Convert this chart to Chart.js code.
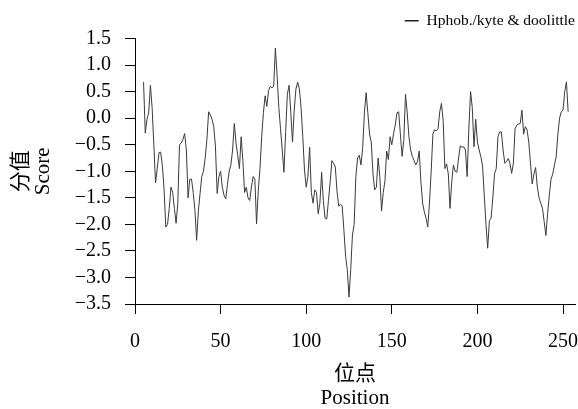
<!DOCTYPE html>
<html>
<head>
<meta charset="utf-8">
<script src="https://cdn.jsdelivr.net/npm/chart.js@4.4.1/dist/chart.umd.min.js"></script>
<style>
    body { margin: 0; background: #fff; }
    canvas { display: block; }
</style>
</head>
<body>
<canvas id="chart" width="578" height="409"></canvas>
<script>
'use strict'

// Kyte & Doolittle hydrophobicity, window centred positions 5..253
const firstPosition = 5;
const scores = [
    0.68, -0.28, -0.02, 0.10, 0.62, 0.20, -0.50, -1.22, -0.95, -0.65,
    -0.64, -0.90, -1.35, -2.05, -2.00, -1.70, -1.30, -1.40, -1.70, -1.98,
    -1.60, -0.50, -0.47, -0.40, -0.29, -0.60, -1.50, -1.15, -1.15, -1.40,
    -1.74, -2.30, -1.75, -1.42, -1.10, -1.00, -0.75, -0.40, 0.12, 0.06,
    -0.02, -0.16, -0.54, -1.42, -1.10, -1.00, -1.30, -1.45, -1.52, -1.25,
    -1.00, -0.88, -0.60, -0.10, -0.47, -0.70, -0.95, -0.35, -0.80, -1.40,
    -1.30, -1.50, -1.55, -1.30, -1.10, -1.15, -1.99, -1.36, -0.95, -0.35,
    0.10, 0.42, 0.22, 0.52, 0.60, 0.57, 0.60, 1.32, 0.80, 0.20,
    -0.20, -0.60, -1.02, -0.25, 0.45, 0.62, 0.10, -0.45, 0.15, 0.55,
    0.68, 0.55, 0.20, -0.35, -0.98, -1.30, -1.10, -0.55, -1.40, -1.60,
    -1.35, -1.40, -1.80, -1.60, -1.02, -1.55, -1.88, -1.90, -1.55, -1.20,
    -0.80, -0.85, -0.92, -1.38, -1.66, -1.62, -1.65, -2.10, -2.60, -2.85,
    -3.37, -2.85, -2.20, -2.00, -1.10, -0.75, -0.70, -0.88, -0.55, 0.10,
    0.48, 0.10, -0.30, -0.45, -1.05, -1.35, -1.30, -0.75, -1.10, -1.75,
    -1.40, -1.18, -0.62, -0.78, -0.35, -0.50, -0.30, -0.13, 0.10, 0.12,
    -0.30, -0.72, -0.42, 0.45, 0.10, -0.35, -0.60, -0.72, -0.80, -0.88,
    -0.82, -0.62, -1.20, -1.60, -1.77, -1.88, -2.05, -1.60, -1.00, -0.30,
    -0.22, -0.24, -0.20, 0.12, 0.28, -0.05, -0.95, -0.86, -1.05, -1.70,
    -1.20, -0.88, -1.00, -1.02, -0.75, -0.52, -0.55, -0.54, -0.60, -1.10,
    -0.20, 0.50, 0.20, -0.54, -0.02, -0.45, -0.60, -0.72, -0.90, -1.45,
    -2.00, -2.45, -1.93, -1.88, -1.50, -1.05, -0.95, -0.35, -0.26, -0.26,
    -0.60, -0.85, -0.82, -0.76, -0.85, -1.04, -0.85, -0.20, -0.13, -0.11,
    -0.10, 0.15, -0.30, -0.16, -0.22, -0.45, -0.85, -1.24, -1.05, -0.93,
    -1.30, -1.50, -1.60, -1.70, -1.95, -2.21, -1.80, -1.45, -1.15, -1.05,
    -0.88, -0.73, -0.30, 0.00, 0.12, 0.15, 0.50, 0.68, 0.12
];
const positions = scores.map((_, i) => firstPosition + i);

const xTicks = [0, 50, 100, 150, 200, 250];
const yTicks = [1.5, 1.0, 0.5, 0.0, -0.5, -1.0, -1.5, -2.0, -2.5, -3.0, -3.5];
const seriesName = 'Hphob./kyte & doolittle';
const xTitle = ['位点', 'Position'];
const yTitle = ['分值', 'Score'];

const serif = "'Liberation Serif', 'Times New Roman', 'Noto Sans CJK SC', serif";

function formatScore(v) {
    const s = Math.abs(v).toFixed(1);
    return v < -1e-9 ? '\u2212' + s : s;
}

const chart = new Chart(document.getElementById('chart'), {
    type: 'line',
    data: {
        datasets: [
            {
                label: seriesName,
                data: positions.map((p, i) => ({ x: p, y: scores[i] })),
                borderColor: '#3a3a3a',
                borderWidth: 1,
                pointRadius: 0,
                tension: 0,
                fill: false
            }
        ]
    },
    options: {
        responsive: false,
        animation: false,
        devicePixelRatio: 1,
        layout: {
            padding: { top: 10, right: 0, left: 0, bottom: 0 }
        },
        plugins: {
            tooltip: { enabled: false },
            legend: {
                position: 'top',
                align: 'end',
                labels: {
                    usePointStyle: true,
                    pointStyle: 'line',
                    pointStyleWidth: 14,
                    padding: 3,
                    color: '#000',
                    font: { family: serif, size: 15.5 },
                    generateLabels: function (c) {
                        const items = Chart.defaults.plugins.legend.labels.generateLabels(c);
                        items.forEach(item => { item.lineWidth = 1.6; item.strokeStyle = '#222'; });
                        return items;
                    }
                }
            }
        },
        scales: {
            x: {
                type: 'linear',
                min: 0,
                max: 257,
                afterBuildTicks: scale => { scale.ticks = xTicks.map(v => ({ value: v })); },
                afterFit: scale => {
                    scale.height = 105;
                    scale.paddingLeft = 0;
                    scale.paddingRight = 3;
                },
                ticks: {
                    color: '#000',
                    padding: 16,
                    maxRotation: 0,
                    autoSkip: false,
                    font: { family: serif, size: 20 },
                    callback: v => String(v)
                },
                grid: {
                    drawOnChartArea: false,
                    drawTicks: true,
                    tickLength: 10,
                    color: '#000',
                    lineWidth: 1
                },
                border: { display: true, color: '#000', width: 1 },
                title: {
                    display: true,
                    text: xTitle,
                    color: '#000',
                    font: { family: serif, size: 21, lineHeight: 1.15 },
                    padding: { top: 0, bottom: -2 }
                }
            },
            y: {
                type: 'linear',
                min: -3.5,
                max: 1.5,
                afterBuildTicks: scale => { scale.ticks = yTicks.map(v => ({ value: v })); },
                afterFit: scale => { scale.width = 135; },
                ticks: {
                    color: '#000',
                    padding: 14,
                    autoSkip: false,
                    font: { family: serif, size: 20 },
                    callback: v => formatScore(v)
                },
                grid: {
                    drawOnChartArea: false,
                    drawTicks: true,
                    tickLength: 10,
                    color: '#000',
                    lineWidth: 1
                },
                border: { display: true, color: '#000', width: 1 },
                title: {
                    display: true,
                    text: yTitle,
                    color: '#000',
                    font: { family: serif, size: 21, lineHeight: 1.05 },
                    padding: { top: 10, bottom: 0 }
                }
            }
        }
    }
});
</script>
</body>
</html>
